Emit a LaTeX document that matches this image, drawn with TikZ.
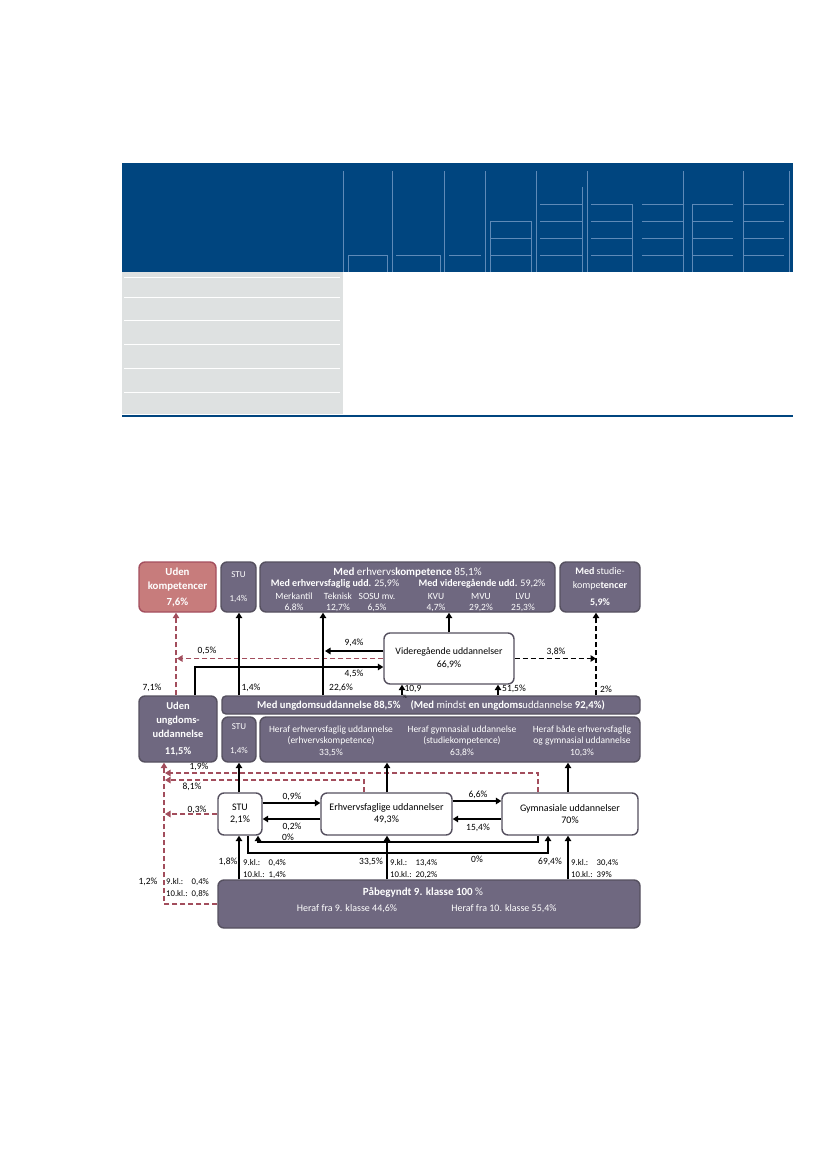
\documentclass[tikz,border=0pt]{standalone}
\usepackage{fontspec}
\setmainfont{Carlito}
\usetikzlibrary{arrows.meta,positioning}
\definecolor{tabBlue}{HTML}{00457F}
\definecolor{tabLine}{HTML}{5E8AB8}
\definecolor{tabGray}{HTML}{DEE1E1}
\definecolor{grpFill}{HTML}{6F6880}
\definecolor{grpLine}{HTML}{55505F}
\definecolor{noFill}{HTML}{C77C7C}
\definecolor{noLine}{HTML}{A44F5E}
\definecolor{dropRed}{HTML}{A24D5C}
\newcommand{\fsz}[2]{\fontsize{#1}{#2}\selectfont}
\newcommand{\kl}[2]{\fsz{8.7}{12.5}\begin{tabular}{@{}l@{\hspace{4pt}}l@{}}9.kl.: & #1\\10.kl.: & #2\end{tabular}}

\begin{document}
\begin{tikzpicture}[x=1pt,y=-1pt,font=\fsz{10}{12},
  grp/.style={draw=grpLine, fill=grpFill, line width=1.4pt, rounded corners=6pt, text=white, align=center, inner sep=0pt},
  edu/.style={draw=grpLine, fill=white, line width=1.4pt, rounded corners=6pt, align=center, inner sep=0pt},
  nocomp/.style={grp, draw=noLine, fill=noFill},
  flow/.style={-{Triangle[length=5.5pt,width=6.5pt]}, line width=1.4pt},
  dflow/.style={flow, dash pattern=on 5pt off 3pt},
  drop/.style={flow, draw=dropRed, line width=1.2pt, dash pattern=on 5pt off 3pt},
  pct/.style={inner sep=0pt, font=\fsz{9.5}{13}},
  wt/.style={inner sep=0pt, text=white, align=center}]
\useasboundingbox (0,0) rectangle (826,1169);

\fill[tabBlue] (122,163) rectangle (793,272);
\foreach \x in {343,392,444,485,536,587,683,743,789} \draw[tabLine] (\x,171) -- (\x,272);
\draw[tabLine] (582,187) -- (582,272);
\draw[tabLine] (348,272) |- (387,255) -- (387,272) (396,255) -- (440,255) -- (440,272) (449,255) -- (481,255);
\foreach \a/\b in {490/531,540/582,591/632,642/683,692/733,743/784} {
  \draw[tabLine] (\a,255) -- (\b,255) (\a,238) -- (\b,238) (\a,221) -- (\b,221);}
\foreach \a/\b in {540/582,591/632,642/683,692/733,743/784} \draw[tabLine] (\a,204) -- (\b,204);
\draw[tabLine] (490,272) |- (531,221) -- (531,272) (632,204) -- (632,272) (692,204) -- (692,272);
\fill[tabGray] (122,272) rectangle (343,414);
\foreach \y in {277,297,320,344,368,392} \draw[white, line width=0.8pt] (124,\y) -- (340,\y);
\draw[tabBlue, line width=2pt] (122,416) -- (793,416);

\node[nocomp, minimum width=77pt, minimum height=50pt, font=\fsz{10.8}{14}] (udenk) at (177.5,587) {\textbf{Uden}\\\textbf{kompetencer}\\[2pt]\textbf{7,6\%}};
\node[grp, minimum width=35pt, minimum height=50pt, font=\fsz{9}{12}] (stut) at (238.5,587) {STU\\[12pt]1,4\%};
\node[grp, minimum width=295pt, minimum height=50pt] (kompe) at (407.5,587) {};
\node[grp, minimum width=80pt, minimum height=50pt, font=\fsz{10}{14.5}] (studk) at (600,587) {\textbf{Med} studie-\\kompe\textbf{tencer}\\[2pt]\textbf{5,9\%}};
\node[wt, font=\fsz{11}{12}] (ke1) at (407.5,572) {\textbf{Med} erhvervs\textbf{kompetence} 85,1\%};
\node[wt, font=\fsz{10}{12}] (ke2) at (335,584) {\textbf{Med erhvervsfaglig udd.} 25,9\%};
\node[wt, font=\fsz{10}{12}] (ke3) at (482,584) {\textbf{Med videregående udd.} 59,2\%};
\foreach \n/\x/\a/\b in {mer/294/Merkantil/{6,8\%},tek/338/Teknisk/{12,7\%},sos/377/{SOSU mv.}/{6,5\%},kvu/436/KVU/{4,7\%},mvu/481/MVU/{29,2\%},lvu/523/LVU/{25,3\%}}
  \node[wt, font=\fsz{9.5}{11.5}] (k\n) at (\x,602.5) {\a\\\b};

\node[edu, minimum width=130pt, minimum height=51pt, font=\fsz{9.8}{13}] (vidu) at (449,658.5) {Videregående uddannelser\\66,9\%};
\node[grp, minimum width=78pt, minimum height=66pt, font=\fsz{10.5}{14}] (udenu) at (178,729) {\textbf{Uden}\\\textbf{ungdoms-}\\\textbf{uddannelse}\\[3pt]\textbf{11,5\%}};
\node[grp, rounded corners=4pt, minimum width=418pt, minimum height=18pt, font=\fsz{10.6}{11}] (ungdu) at (431,705) {\textbf{Med ungdomsuddannelse 88,5\%}\hspace{10pt}\textbf{(Med} mindst \textbf{en ungdoms}uddannelse \textbf{92,4\%)}};
\node[grp, minimum width=34pt, minimum height=45pt, font=\fsz{9}{12}] (stum) at (239,739.5) {STU\\[12pt]1,4\%};
\node[grp, minimum width=380pt, minimum height=45pt] (herafb) at (450,739.5) {};
\node[wt, font=\fsz{9.5}{11.5}] (hb1) at (331,741) {Heraf erhvervsfaglig uddannelse\\(erhvervskompetence)\\33,5\%};
\node[wt, font=\fsz{9.5}{11.5}] (hb2) at (462,741) {Heraf gymnasial uddannelse\\(studiekompetence)\\63,8\%};
\node[wt, font=\fsz{9.5}{11.5}] (hb3) at (582,741) {Heraf både erhvervsfaglig\\og gymnasial uddannelse\\10,3\%};

\node[edu, minimum width=44pt, minimum height=42pt] (stub) at (240,814) {STU\\2,1\%};
\node[edu, minimum width=131pt, minimum height=42pt] (erhvu) at (386.5,814) {Erhvervsfaglige uddannelser\\49,3\%};
\node[edu, minimum width=136pt, minimum height=42pt] (gymu) at (570,814) {Gymnasiale uddannelser\\70\%};
\node[grp, minimum width=422pt, minimum height=48pt] (paab) at (429,904) {};
\node[wt, font=\fsz{11}{12}] (pb1) at (423,892) {\textbf{Påbegyndt 9. klasse 100} \%};
\node[wt, font=\fsz{10}{11}] (pb2) at (347,909) {Heraf fra 9. klasse 44,6\%};
\node[wt, font=\fsz{10}{11}] (pb3) at (504,909) {Heraf fra 10. klasse 55,4\%};

\coordinate (j94) at (325,651);
\coordinate (j19) at (165,773);
\coordinate (j81) at (165,780);

\draw[drop] (176,0 |- udenu.north) -- (176,0 |- udenk.south);
\draw[drop] (vidu.west) -- (vidu.west -| 177,0);
\draw[drop] (538,0 |- gymu.north) |- (j19);
\draw[drop] (364,0 |- erhvu.north) |- (j81);
\draw[drop] (stub.west) -- (stub.west -| 165,0);
\draw[drop] (paab.west) -| (164,0 |- udenu.south);

\draw[flow] (239,0 |- ungdu.north) -- (239,0 |- stut.south);
\draw[flow] (323,0 |- ungdu.north) -- (323,0 |- kompe.south);
\draw[flow] (vidu.west |- 0,651) -- (j94);
\draw[flow] (195,0 |- udenu.north) |- (vidu.west |- 0,667);
\draw[flow] (vidu.north) -- (vidu.north |- kompe.south);
\draw[flow] (402,0 |- ungdu.north) -- (402,0 |- vidu.south);
\draw[flow] (498,0 |- ungdu.north) -- (498,0 |- vidu.south);
\draw[dflow] (vidu.east) -- (vidu.east -| 596,0);
\draw[dflow] (596,0 |- ungdu.north) -- (596,0 |- studk.south);
\draw[flow] (239,0 |- stub.north) -- (239,0 |- stum.south);
\draw[flow] (387,0 |- erhvu.north) -- (387,0 |- herafb.south);
\draw[flow] (568,0 |- gymu.north) -- (568,0 |- herafb.south);
\draw[flow] (stub.east |- 0,803) -- (erhvu.west |- 0,803);
\draw[flow] (erhvu.west |- 0,819) -- (stub.east |- 0,819);
\draw[flow] (erhvu.east |- 0,801) -- (gymu.west |- 0,801);
\draw[flow] (gymu.west |- 0,819) -- (erhvu.east |- 0,819);
\draw[flow] (538,0 |- gymu.south) -- (538,842) -| (258,0 |- stub.south);
\draw[flow] (248,0 |- stub.south) -- (248,853) -| (548,0 |- gymu.south);
\draw[flow] (239,0 |- paab.north) -- (239,0 |- stub.south);
\draw[flow] (387,0 |- paab.north) -- (387,0 |- erhvu.south);
\draw[flow] (568,0 |- paab.north) -- (568,0 |- gymu.south);

\node[pct] (l71) at (152,688) {7,1\%};
\node[pct] (l14) at (251,688) {1,4\%};
\node[pct] (l226) at (341,688) {22,6\%};
\node[pct] (l109) at (413,689) {10,9};
\node[pct, font=\fsz{5}{5}] (l109p) at (405,697) {\%};
\node[pct] (l515) at (514,689) {51,5\%};
\node[pct] (l2) at (606,689) {2\%};
\node[pct] (l94) at (354,643) {9,4\%};
\node[pct] (l05) at (207,651) {0,5\%};
\node[pct] (l45) at (354,674) {4,5\%};
\node[pct] (l38) at (556,652) {3,8\%};
\node[pct] (l19) at (199,767) {1,9\%};
\node[pct] (l81) at (192,787) {8,1\%};
\node[pct] (l03) at (197,810) {0,3\%};
\node[pct] (l09) at (292,797) {0,9\%};
\node[pct] (l02) at (292,827) {0,2\%};
\node[pct] (l0a) at (288,837) {0\%};
\node[pct] (l66) at (478,795) {6,6\%};
\node[pct] (l154) at (478,828) {15,4\%};
\node[pct] (l0b) at (477,859) {0\%};
\node[pct] (l18) at (228,862) {1,8\%};
\node[pct] (l335) at (371,862) {33,5\%};
\node[pct] (l694) at (550,862) {69,4\%};
\node[pct] (l12) at (148,882) {1,2\%};
\node[pct, anchor=west] (kstu) at (243,869) {\kl{0,4\%}{1,4\%}};
\node[pct, anchor=west] (kerh) at (390,869) {\kl{13,4\%}{20,2\%}};
\node[pct, anchor=west] (kgym) at (571,869) {\kl{30,4\%}{39\%}};
\node[pct, anchor=west] (kude) at (166,888) {\kl{0,4\%}{0,8\%}};
\end{tikzpicture}
\end{document}
